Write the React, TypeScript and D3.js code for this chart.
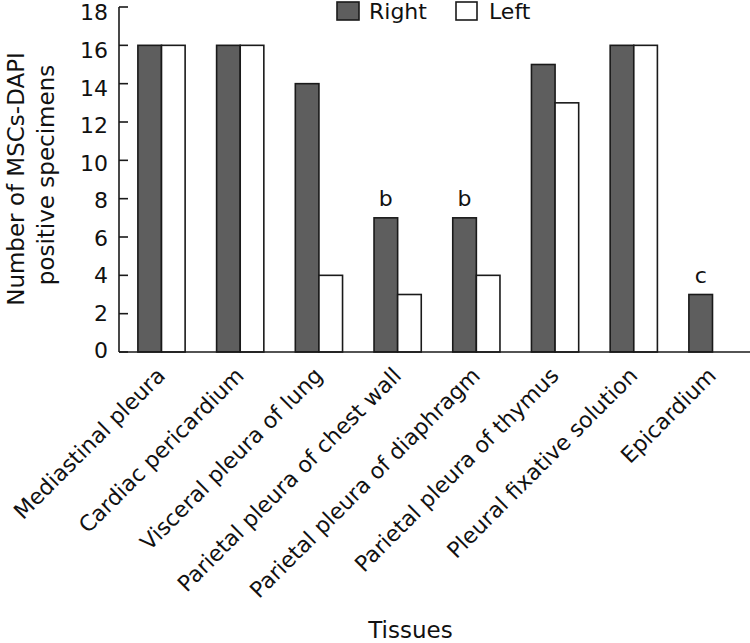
import React from 'react';
import * as d3 from 'd3';

const categories = [
  'Mediastinal pleura',
  'Cardiac pericardium',
  'Visceral pleura of lung',
  'Parietal pleura of chest wall',
  'Parietal pleura of diaphragm',
  'Parietal pleura of thymus',
  'Pleural fixative solution',
  'Epicardium',
];
const seriesNames = ['Right', 'Left'];
const rightValues = [16, 16, 14, 7, 7, 15, 16, 3];
const leftValues = [16, 16, 4, 3, 4, 13, 16, 0];
const annotations = ['', '', '', 'b', 'b', '', '', 'c'];
const yTicks = [0, 2, 4, 6, 8, 10, 12, 14, 16, 18];
const yLabelLines = ['Number of MSCs-DAPI', 'positive specimens'];
const xTitle = 'Tissues';

export default function App() {
  const W = 750;
  const H = 643;
  const font = "'DejaVu Sans', Verdana, sans-serif";
  const axisX = 119;
  const axisY = 352;
  const yTop = 7;
  const dark = '#5e5e5e';
  const stroke = '#1a1a1a';
  const textColor = '#111';

  const y = d3.scaleLinear().domain([0, 18]).range([axisY, yTop]);
  // tick labels sit on a slightly tighter scale than the ticks in the reference
  const yLab = d3.scaleLinear().domain([0, 18]).range([350.5, 12.5]);
  const x = d3
    .scaleBand<string>()
    .domain(categories)
    .range([axisX, 755])
    .paddingInner(0.4)
    .paddingOuter(0.24);
  const xs = d3.scaleBand<string>().domain(seriesNames).range([0, x.bandwidth()]);

  const series = [
    { name: 'Right', values: rightValues, fill: dark },
    { name: 'Left', values: leftValues, fill: '#ffffff' },
  ];

  return (
    <svg
      width={W}
      height={H}
      style={{ position: 'absolute', left: 0, top: 0, background: '#fff' }}
      fontFamily={font}
    >
      <rect x={0} y={0} width={W} height={H} fill="#fff" />
      {/* bars */}
      {series.map((s) =>
        categories.map((c, i) => {
          const v = s.values[i];
          if (v <= 0) return null;
          const bx = (x(c) as number) + (xs(s.name) as number);
          return (
            <rect
              key={s.name + c}
              x={bx}
              y={y(v)}
              width={xs.bandwidth()}
              height={axisY - y(v)}
              fill={s.fill}
              stroke={stroke}
              strokeWidth={1.6}
            />
          );
        })
      )}
      {/* annotations */}
      {categories.map((c, i) =>
        annotations[i] ? (
          <text
            key={'an' + c}
            x={(x(c) as number) + (xs('Right') as number) + xs.bandwidth() / 2}
            y={y(rightValues[i]) - 12}
            textAnchor="middle"
            fontSize={22}
            fill={textColor}
          >
            {annotations[i]}
          </text>
        ) : null
      )}
      {/* axes */}
      <line x1={axisX} x2={W} y1={axisY} y2={axisY} stroke={stroke} strokeWidth={1.6} />
      <line x1={axisX} x2={axisX} y1={yTop} y2={axisY} stroke={stroke} strokeWidth={1.6} />
      {yTicks.map((t) => (
        <g key={'yt' + t}>
          <line x1={axisX} x2={axisX + 9} y1={y(t)} y2={y(t)} stroke={stroke} strokeWidth={1.6} />
          <text x={108} y={yLab(t)} textAnchor="end" dy="0.36em" fontSize={22} fill={textColor}>
            {t}
          </text>
        </g>
      ))}
      {/* x tick labels */}
      {categories.map((c) => (
        <text
          key={'xl' + c}
          transform={`translate(${(x(c) as number) + x.bandwidth() / 2 + 5},377) rotate(-45)`}
          textAnchor="end"
          fontSize={22}
          fill={textColor}
        >
          {c}
        </text>
      ))}
      {/* y label */}
      <text transform="translate(24,179) rotate(-90)" textAnchor="middle" fontSize={23} fill={textColor}>
        {yLabelLines[0]}
      </text>
      <text transform="translate(54,175) rotate(-90)" textAnchor="middle" fontSize={23} fill={textColor}>
        {yLabelLines[1]}
      </text>
      {/* x title */}
      <text x={410.5} y={638} textAnchor="middle" fontSize={23} fill={textColor}>
        {xTitle}
      </text>
      {/* legend */}
      <rect x={337} y={2} width={22} height={18} fill={dark} stroke={stroke} strokeWidth={1.6} />
      <text x={369} y={18.5} fontSize={22} fill={textColor}>
        {seriesNames[0]}
      </text>
      <rect x={456} y={2} width={21} height={18} fill="#fff" stroke={stroke} strokeWidth={1.6} />
      <text x={489} y={18.5} fontSize={22} fill={textColor}>
        {seriesNames[1]}
      </text>
    </svg>
  );
}
